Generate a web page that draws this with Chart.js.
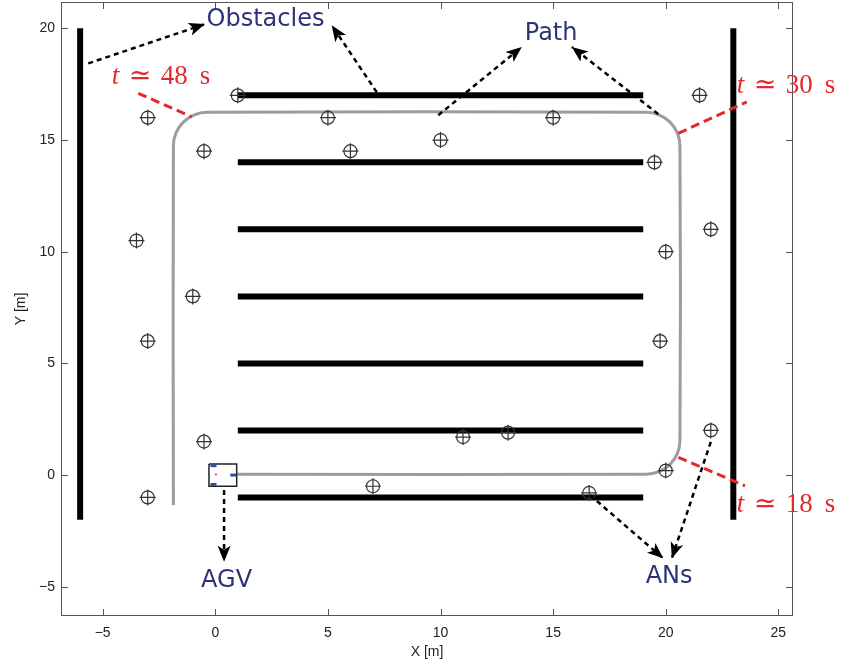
<!DOCTYPE html>
<html lang="en">
<head>
<meta charset="UTF-8" />
<title>AGV path and anchor nodes</title>
<script src="https://cdn.jsdelivr.net/npm/chart.js@4.4.1/dist/chart.umd.min.js"></script>
<style>
  body { margin: 0; padding: 0; background: #fff; }
  .container { width: 842px; height: 669px; }
</style>
</head>
<body>
<div class="container"><canvas id="chart"></canvas></div>
<script>
const xTicks = [-5, 0, 5, 10, 15, 20, 25]
const yTicks = [-5, 0, 5, 10, 15, 20]

// obstacle walls: [x1, y1, x2, y2]
const obstacles = [
  [-6, -2, -6, 20],
  [23, -2, 23, 20],
  [1, 17, 19, 17],
  [1, 14, 19, 14],
  [1, 11, 19, 11],
  [1, 8, 19, 8],
  [1, 5, 19, 5],
  [1, 2, 19, 2],
  [1, -1, 19, -1],
]

// anchor nodes (ANs)
const anX = [-3, 1, -0.5, 5, 6, 10, 15, 19.5, 21.5, 22, 20, 19.75, 22, 20, 16.6, 13, 11, 7, -0.5, -3, -3.5, -1, -3]
const anY = [16, 17, 14.5, 16, 14.5, 15, 16, 14, 17, 11, 10, 6, 2, 0.2, -0.8, 1.9, 1.7, -0.5, 1.5, -1, 10.5, 8, 6]

// AGV path (read along the rounded track)
const pathX = [-1.86, -1.86, -1.75, -1.42, -0.93, -0.36, 19.13, 19.7, 20.19, 20.52, 20.63, 20.63, 20.52, 20.19, 19.7, 19.13, 0.95]
const pathY = [-1.34, 14.74, 15.31, 15.8, 16.13, 16.24, 16.24, 16.13, 15.8, 15.31, 14.74, 1.54, 0.97, 0.48, 0.15, 0.04, 0.04]

// AGV body
const agvX = [-0.28, 0.95, 0.95, -0.28, -0.28]
const agvY = [0.5, 0.5, -0.5, -0.5, 0.5]
const agvTagX = [-0.08, -0.08, 0.8]
const agvTagY = [0.42, -0.42, 0]

// dashed arrows: [x1, y1, x2, y2], head at (x2, y2)
const arrows = [
  [-5.64, 18.43, -0.46, 20.19],
  [7.17, 17.14, 5.17, 20.14],
  [9.9, 16.11, 13.61, 19.17],
  [19.67, 16.16, 15.83, 19.17],
  [0.39, -0.67, 0.39, -3.88],
  [16.64, -0.9, 19.89, -3.73],
  [22.0, 1.49, 20.27, -3.73],
]

// time markers on the path
const timeLines = [
  [-3.42, 17.09, -1.05, 16.04],
  [20.56, 15.3, 23.6, 16.71],
  [20.56, 0.79, 23.52, -0.48],
]
const timeTexts = ['48', '30', '18']
const timeX = [-4.6, 23.15, 23.15]
const timeY = [17.53, 17.09, -1.64]

// label text baselines
const labelTexts = ['Obstacles', 'Path', 'AGV', 'ANs']
const labelX = [2.23, 14.91, 0.5, 20.15]
const labelY = [20.1, 19.5, -5.0, -4.85]

const seg = (s) => [{ x: s[0], y: s[1] }, { x: s[2], y: s[3] }]
const zip = (xs, ys) => xs.map((v, i) => ({ x: v, y: ys[i] }))

const datasets = []
datasets.push({
  data: zip(pathX, pathY), showLine: true, borderColor: '#9c9c9c', borderWidth: 3,
  pointRadius: 0, tension: 0.3, order: 10,
})
obstacles.forEach((o) => datasets.push({
  data: seg(o), showLine: true, borderColor: '#000', borderWidth: 6, borderCapStyle: 'butt',
  pointRadius: 0, order: 9,
}))
datasets.push({
  data: zip(agvX, agvY), showLine: true, borderColor: '#222', borderWidth: 1.5,
  backgroundColor: '#fff', fill: true, pointRadius: 0, order: 8,
})
datasets.push({
  data: zip(agvTagX, agvTagY), pointStyle: 'line', pointRadius: 3, pointBorderWidth: 3,
  pointBorderColor: '#2a4fa8', order: 7,
})
datasets.push({
  data: [{ x: 0.03, y: 0.02 }], pointRadius: 1, pointBorderWidth: 0, pointBackgroundColor: '#e23030', order: 7,
})
datasets.push({
  data: zip(anX, anY), pointStyle: 'circle', pointRadius: 6.5, pointBorderWidth: 1.2,
  pointBorderColor: '#333', pointBackgroundColor: 'rgba(0,0,0,0)', order: 5,
})
datasets.push({
  data: zip(anX, anY), pointStyle: 'cross', pointRadius: 8, pointBorderWidth: 1.2,
  pointBorderColor: '#333', order: 5,
})
arrows.forEach((a) => datasets.push({
  data: seg(a), showLine: true, borderColor: '#000', borderWidth: 2.5, borderDash: [5, 4],
  borderCapStyle: 'butt', pointRadius: 0, order: 3,
}))
timeLines.forEach((a) => datasets.push({
  data: seg(a), showLine: true, borderColor: '#e3292c', borderWidth: 3, borderDash: [9, 5],
  borderCapStyle: 'butt', pointRadius: 0, order: 2,
}))

const framePlugin = {
  id: 'frame',
  afterDraw(chart) {
    const { ctx, chartArea: a, scales: { x, y } } = chart
    ctx.save()
    ctx.strokeStyle = '#555'
    ctx.lineWidth = 1
    ctx.strokeRect(a.left + 0.5, a.top + 0.5, a.right - a.left - 1, a.bottom - a.top - 1)
    ctx.beginPath()
    xTicks.forEach((v) => {
      const px = Math.round(x.getPixelForValue(v)) + 0.5
      ctx.moveTo(px, a.bottom); ctx.lineTo(px, a.bottom - 7)
      ctx.moveTo(px, a.top); ctx.lineTo(px, a.top + 7)
    })
    yTicks.forEach((v) => {
      const py = Math.round(y.getPixelForValue(v)) + 0.5
      ctx.moveTo(a.left, py); ctx.lineTo(a.left + 7, py)
      ctx.moveTo(a.right, py); ctx.lineTo(a.right - 7, py)
    })
    ctx.stroke()

    // arrow heads
    ctx.fillStyle = '#000'
    arrows.forEach((s) => {
      const x1 = x.getPixelForValue(s[0]), y1 = y.getPixelForValue(s[1])
      const x2 = x.getPixelForValue(s[2]), y2 = y.getPixelForValue(s[3])
      const ang = Math.atan2(y2 - y1, x2 - x1)
      ctx.save()
      ctx.translate(x2, y2)
      ctx.rotate(ang)
      ctx.beginPath()
      ctx.moveTo(0, 0)
      ctx.lineTo(-16, -6.5)
      ctx.lineTo(-12, 0)
      ctx.lineTo(-16, 6.5)
      ctx.closePath()
      ctx.fill()
      ctx.restore()
    })

    // labels
    ctx.fillStyle = '#2e3378'
    ctx.font = '24px "DejaVu Sans"'
    ctx.textAlign = 'center'
    ctx.textBaseline = 'alphabetic'
    labelTexts.forEach((t, i) => {
      ctx.fillText(t, x.getPixelForValue(labelX[i]), y.getPixelForValue(labelY[i]))
    })

    // t ≃ NN s, laid out like the LaTeX original
    ctx.fillStyle = '#e3292c'
    ctx.textAlign = 'left'
    timeTexts.forEach((t, i) => {
      const px = x.getPixelForValue(timeX[i]), py = y.getPixelForValue(timeY[i])
      ctx.font = 'italic 27px "Liberation Serif"'
      ctx.fillText('t', px, py)
      ctx.font = '27px "DejaVu Serif"'
      ctx.fillText('\u2243', px + 17, py)
      ctx.font = '27px "Liberation Serif"'
      ctx.fillText(t, px + 49, py)
      ctx.fillText('s', px + 88, py)
    })
    ctx.restore()
  },
}

new Chart(document.getElementById('chart'), {
  type: 'scatter',
  data: { datasets },
  options: {
    responsive: true,
    maintainAspectRatio: false,
    animation: false,
    layout: { autoPadding: false, padding: { top: 2, right: 49, bottom: 0, left: 0 } },
    plugins: { legend: { display: false }, tooltip: { enabled: false } },
    scales: {
      x: {
        type: 'linear', min: -6.85, max: 25.65,
        afterBuildTicks: (s) => { s.ticks = xTicks.map((v) => ({ value: v })) },
        afterFit: (s) => { s.height = 53; s.paddingLeft = 0; s.paddingRight = 0 },
        grid: { display: false, drawTicks: false }, border: { display: false },
        ticks: {
          padding: 9, color: '#222', font: { family: '"Liberation Sans", Arial', size: 14 },
          callback: (v) => String(v).replace('-', '\u2212'), maxRotation: 0,
        },
        title: { display: true, text: 'X [m]', color: '#222', font: { family: '"Liberation Sans", Arial', size: 14 }, padding: { top: 0, bottom: 8 } },
      },
      y: {
        type: 'linear', min: -6.31, max: 21.18,
        afterBuildTicks: (s) => { s.ticks = yTicks.map((v) => ({ value: v })) },
        afterFit: (s) => { s.width = 61; s.paddingTop = 0; s.paddingBottom = 0 },
        grid: { display: false, drawTicks: false }, border: { display: false },
        ticks: {
          padding: 6, color: '#222', font: { family: '"Liberation Sans", Arial', size: 14 },
          callback: (v) => String(v).replace('-', '\u2212'),
        },
        title: { display: true, text: 'Y [m]', color: '#222', font: { family: '"Liberation Sans", Arial', size: 14 }, padding: { top: 13, bottom: 0 } },
      },
    },
  },
  plugins: [framePlugin],
})
</script>
</body>
</html>
